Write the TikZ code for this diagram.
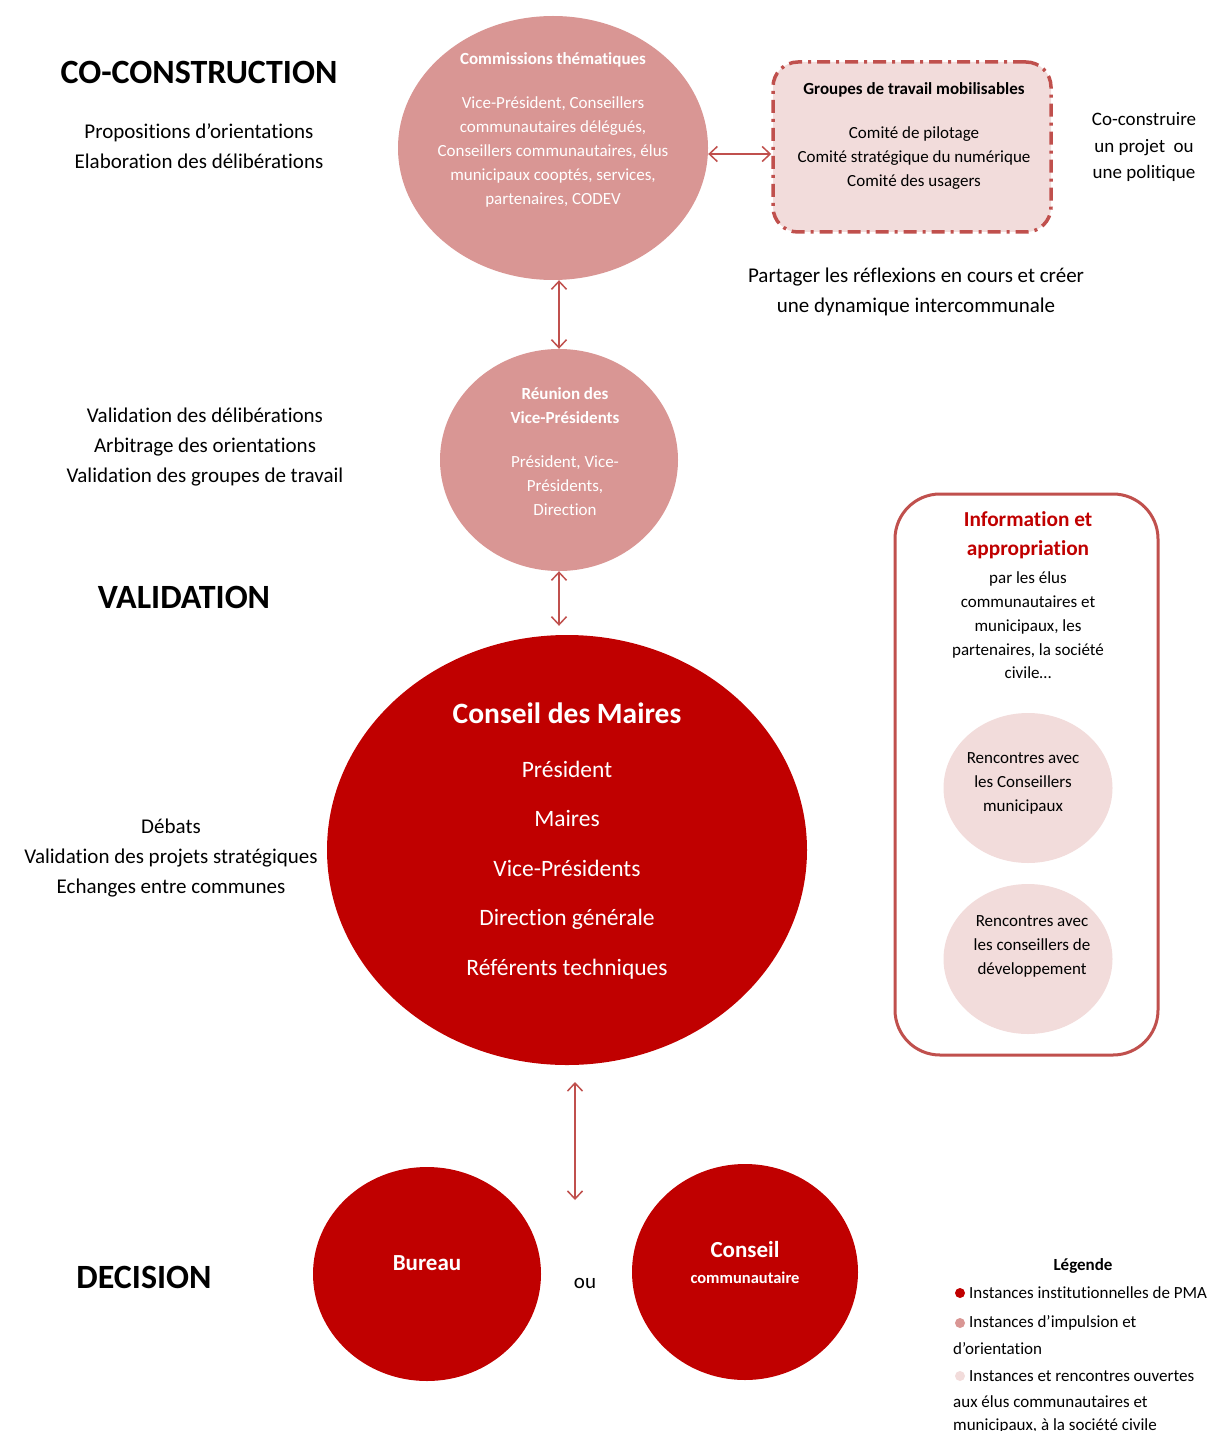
\documentclass[tikz,border=0pt]{standalone}
\usepackage{fontspec}
\setmainfont{Carlito}[Ligatures=NoCommon]
\usetikzlibrary{arrows.meta,shapes.geometric,positioning}
\definecolor{rougefonce}{HTML}{C00000}
\definecolor{rosemoyen}{HTML}{D99694}
\definecolor{roseclair}{HTML}{F2DCDB}
\definecolor{rougetrait}{HTML}{C0504D}

\begin{document}
\begin{tikzpicture}[x=1pt,y=-1pt,
  bulle/.style={ellipse,inner sep=0pt},
  fleche/.style={{Straight Barb[length=8pt,width=15pt]}-{Straight Barb[length=8pt,width=15pt]},rougetrait,line width=1.5pt},
  blanc/.style={text=white,align=center},
  noir/.style={align=center},
  grostitre/.style={font=\bfseries\fontsize{34}{40}\selectfont},
  cote/.style={align=center,font=\fontsize{21}{30}\selectfont},
  petit/.style={font=\fontsize{17}{24}\selectfont},
  petitgras/.style={font=\bfseries\fontsize{17}{24}\selectfont},
  legtxt/.style={anchor=west,inner sep=0pt,font=\fontsize{17}{24}\selectfont}]
\useasboundingbox (0,0) rectangle (1208,1431);

% titres de gauche
\node[grostitre] (tco) at (199,72) {CO-CONSTRUCTION};
\node[grostitre] (tval) at (184,597) {VALIDATION};
\node[grostitre] (tdec) at (144,1277) {DECISION};

\node[cote] (cco) at (199,146) {Propositions d’orientations\\Elaboration des délibérations};
\node[cote] (cval) at (205,447) {Validation des délibérations\\Arbitrage des orientations\\Validation des groupes de travail};
\node[cote] (cdec) at (171,858) {Débats\\Validation des projets stratégiques\\Echanges entre communes};

% commissions
\node[bulle,fill=rosemoyen,minimum width=310,minimum height=264] (comm) at (553,148) {};
\node[blanc,petitgras] (commtitre) at (553,60) {Commissions thématiques};
\node[blanc,petit] (commcorps) at (553,152) {Vice-Président, Conseillers\\communautaires délégués,\\Conseillers communautaires, élus\\municipaux cooptés, services,\\partenaires, CODEV};

% groupes de travail
\node[draw=rougetrait,fill=roseclair,line width=3.5pt,dash pattern=on 13pt off 6pt on 3pt off 6pt,rounded corners=25pt,minimum width=278,minimum height=170] (grp) at (912,147) {};
\node[noir,petitgras] (grptitre) at (914,90) {Groupes de travail mobilisables};
\node[noir,petit] (grpcorps) at (914,158) {Comité de pilotage\\Comité stratégique du numérique\\Comité des usagers};
\draw[fleche] ([yshift=-6pt]comm.east) -- ([yshift=-7pt]grp.west);

\node[noir,font=\fontsize{19}{26.5}\selectfont] (coconst) at (1144,147) {Co-construire\\un projet~ ou\\une politique};
\node[cote] (partage) at (916,292) {Partager les réflexions en cours et créer\\une dynamique intercommunale};

% reunion des VP
\node[bulle,fill=rosemoyen,minimum width=238,minimum height=222] (reu) at (559,460) {};
\node[blanc,petitgras] (reutitre) at (565,406) {Réunion des\\Vice-Présidents};
\node[blanc,petit] (reucorps) at (565,486) {Président, Vice-\\Présidents,\\Direction};
\draw[fleche] (reu.north |- comm.south) -- (reu.north);

% conseil des maires
\node[bulle,fill=rougefonce,minimum width=480,minimum height=430] (cdm) at (567,850) {};
\node[blanc,font=\bfseries\fontsize{29.5}{34}\selectfont] (cdmtitre) at (567,713) {Conseil des Maires};
\node[blanc,font=\fontsize{23.5}{49.5}\selectfont] (cdmcorps) at (567,870) {Président\\Maires\\Vice-Présidents\\Direction générale\\Référents techniques};
\draw[fleche,shorten >=9pt] (reu.south) -- (reu.south |- cdm.north);

% decision
\coordinate (flhaut) at (575,1082);
\coordinate (flbas) at (575,1200);
\draw[fleche] (flhaut) -- (flbas);
\node[bulle,fill=rougefonce,minimum width=228,minimum height=214] (bur) at (427,1274) {};
\node[blanc,font=\bfseries\fontsize{23}{28}\selectfont] (burtxt) at (427,1263) {Bureau};
\node[noir,font=\fontsize{21}{26}\selectfont] (ou) at (585,1283) {ou};
\node[bulle,fill=rougefonce,minimum width=226,minimum height=216] (cc) at (745,1272) {};
\node[blanc,font=\bfseries\fontsize{23}{28}\selectfont] (cctitre) at (745,1249) {Conseil};
\node[blanc,font=\bfseries\fontsize{16.5}{24}\selectfont] (cctxt) at (745,1278) {communautaire};

% information et appropriation
\node[draw=rougetrait,line width=3pt,rounded corners=45pt,minimum width=263,minimum height=561] (info) at (1026.5,774.5) {};
\node[noir,text=rougefonce,font=\bfseries\fontsize{21.3}{29}\selectfont] (infotitre) at (1028,535.5) {Information et\\appropriation};
\node[noir,font=\fontsize{17}{23.75}\selectfont] (infocorps) at (1028,625.5) {par les élus\\communautaires et\\municipaux, les\\partenaires, la société\\civile…};
\node[bulle,fill=roseclair,minimum width=169,minimum height=150] (renc1) at (1028,788) {};
\node[noir,petit] (renc1txt) at (1023,783) {Rencontres avec\\les Conseillers\\municipaux};
\node[bulle,fill=roseclair,minimum width=169,minimum height=150] (renc2) at (1028,959) {};
\node[noir,petit] (renc2txt) at (1032,946) {Rencontres avec\\les conseillers de\\développement};

% legende
\node[petitgras] (leg) at (1083,1266) {Légende};
\foreach \c/\y in {rougefonce/1293,rosemoyen/1323,roseclair/1376}
  \fill[\c] (960,\y) circle (5);
\node[legtxt] (leg1) at (969,1293) {Instances institutionnelles de PMA};
\node[legtxt] (leg2) at (969,1323) {Instances d’impulsion et};
\node[legtxt] (leg2b) at (953,1349) {d’orientation};
\node[legtxt] (leg3) at (969,1376) {Instances et rencontres ouvertes};
\node[legtxt] (leg3b) at (953,1402) {aux élus communautaires et};
\node[legtxt] (leg3c) at (953,1426) {municipaux, à la société civile};
\end{tikzpicture}
\end{document}
